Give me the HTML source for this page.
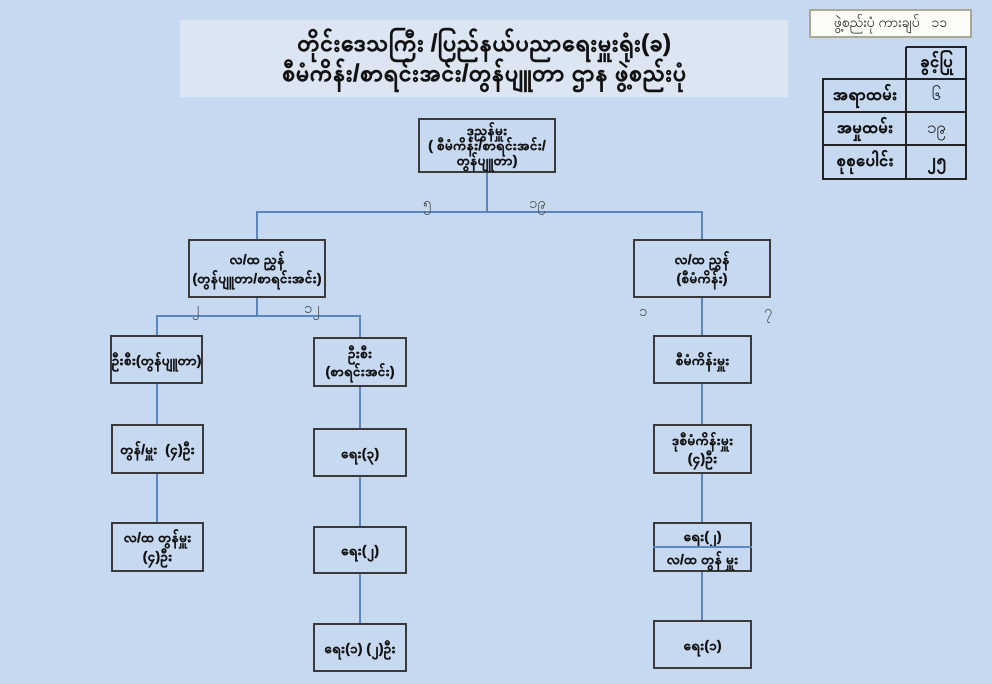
<!DOCTYPE html>
<html>
<head>
<meta charset="utf-8">
<style>
  html,body{margin:0;padding:0;}
  body{width:992px;height:684px;background:#c6d9f1;position:relative;overflow:hidden;
    font-family:"Liberation Sans","Padauk","Noto Sans Myanmar","Myanmar Text","DejaVu Sans",sans-serif;color:#111;}
  .abs{position:absolute;}
  .box{position:absolute;box-sizing:border-box;border:2px solid #3a3a3a;display:flex;align-items:center;justify-content:center;text-align:center;font-weight:bold;font-size:14px;line-height:18px;-webkit-text-stroke:0.35px #111;white-space:nowrap;}
  .lbl{position:absolute;font-size:15px;color:#444;line-height:16px;}
  .title{position:absolute;left:180px;top:20px;width:608px;height:77px;background:#dce6f2;display:flex;flex-direction:column;align-items:center;justify-content:center;font-weight:bold;font-size:24px;line-height:30px;-webkit-text-stroke:0.4px #111;white-space:nowrap;}
  .tag{position:absolute;left:809px;top:9px;width:163px;height:29px;box-sizing:border-box;background:#fdfdf8;border:2px solid #aaa996;display:flex;align-items:center;justify-content:center;font-size:14px;white-space:nowrap;}
  .cell{position:absolute;display:flex;align-items:center;justify-content:center;font-weight:bold;font-size:17px;-webkit-text-stroke:0.35px #111;white-space:nowrap;}
  svg{position:absolute;left:0;top:0;}
</style>
</head>
<body>
<svg width="992" height="684" viewBox="0 0 992 684">
  <g stroke="#5b87c0" stroke-width="2" fill="none">
    <line x1="487" y1="172" x2="487" y2="212"/>
    <line x1="256" y1="212" x2="703" y2="212"/>
    <line x1="257" y1="212" x2="257" y2="239"/>
    <line x1="702" y1="212" x2="702" y2="239"/>
    <line x1="257" y1="298" x2="257" y2="316"/>
    <line x1="156" y1="316" x2="361" y2="316"/>
    <line x1="157" y1="316" x2="157" y2="335"/>
    <line x1="360" y1="316" x2="360" y2="337"/>
    <line x1="702" y1="298" x2="702" y2="335"/>
    <line x1="157" y1="384" x2="157" y2="424"/>
    <line x1="157" y1="474" x2="157" y2="522"/>
    <line x1="360" y1="387" x2="360" y2="428"/>
    <line x1="360" y1="477" x2="360" y2="526"/>
    <line x1="360" y1="574" x2="360" y2="623"/>
    <line x1="702" y1="384" x2="702" y2="424"/>
    <line x1="702" y1="474" x2="702" y2="522"/>
    <line x1="702" y1="572" x2="702" y2="620"/>
  </g>
  <g stroke="#222" stroke-width="2" fill="none">
    <line x1="906" y1="47" x2="967" y2="47"/>
    <line x1="906" y1="47" x2="906" y2="179"/>
    <line x1="966" y1="47" x2="966" y2="179"/>
    <line x1="823" y1="79" x2="823" y2="179"/>
    <line x1="822" y1="79" x2="967" y2="79"/>
    <line x1="822" y1="112" x2="967" y2="112"/>
    <line x1="822" y1="145" x2="967" y2="145"/>
    <line x1="822" y1="179" x2="967" y2="179"/>
  </g>
</svg>

<div class="title">
  <div>တိုင်းဒေသကြီး /ပြည်နယ်ပညာရေးမှူးရုံး(ခ)</div>
  <div>စီမံကိန်း/စာရင်းအင်း/တွန်ပျူတာ ဌာန ဖွဲ့စည်းပုံ</div>
</div>

<div class="tag">ဖွဲ့စည်းပုံ ကားချပ်&nbsp;&nbsp; ၁၁</div>

<div class="cell" style="left:907px;top:48px;width:59px;height:31px;">ခွင့်ပြု</div>
<div class="cell" style="left:824px;top:80px;width:82px;height:32px;">အရာထမ်း</div>
<div class="cell" style="left:907px;top:80px;width:59px;height:32px;font-weight:normal;-webkit-text-stroke:0;">၆</div>
<div class="cell" style="left:824px;top:113px;width:82px;height:32px;">အမှုထမ်း</div>
<div class="cell" style="left:907px;top:113px;width:59px;height:32px;font-weight:normal;-webkit-text-stroke:0;">၁၉</div>
<div class="cell" style="left:824px;top:146px;width:82px;height:33px;">စုစုပေါင်း</div>
<div class="cell" style="left:907px;top:146px;width:59px;height:33px;">၂၅</div>

<!-- root -->
<div class="box" style="left:418px;top:118px;width:138px;height:55px;line-height:15px;">ဒုညွှန်မှူး<br>( စီမံကိန်း/စာရင်းအင်း/<br>တွန်ပျူတာ)</div>
<div class="lbl" style="left:423px;top:196px;">၅</div>
<div class="lbl" style="left:529px;top:196px;">၁၉</div>

<!-- level 2 -->
<div class="box" style="left:188px;top:239px;width:138px;height:59px;line-height:19px;">လ/ထ ညွှန်<br>(တွန်ပျူတာ/စာရင်းအင်း)</div>
<div class="box" style="left:633px;top:239px;width:138px;height:59px;line-height:19px;">လ/ထ ညွှန်<br>(စီမံကိန်း)</div>
<div class="lbl" style="left:192px;top:301px;">၂</div>
<div class="lbl" style="left:304px;top:301px;">၁၂</div>
<div class="lbl" style="left:639px;top:304px;">၁</div>
<div class="lbl" style="left:764px;top:304px;">၇</div>

<!-- level 3 -->
<div class="box" style="left:110px;top:335px;width:93px;height:49px;">ဦးစီး(တွန်ပျူတာ)</div>
<div class="box" style="left:313px;top:337px;width:94px;height:50px;">ဦးစီး<br>(စာရင်းအင်း)</div>
<div class="box" style="left:653px;top:335px;width:99px;height:49px;">စီမံကိန်းမှူး</div>

<!-- level 4 -->
<div class="box" style="left:111px;top:424px;width:93px;height:50px;">တွန်/မှူး&nbsp; (၄)ဦး</div>
<div class="box" style="left:313px;top:428px;width:94px;height:49px;">ရေး(၃)</div>
<div class="box" style="left:653px;top:424px;width:99px;height:50px;">ဒုစီမံကိန်းမှူး<br>(၄)ဦး</div>

<!-- level 5 -->
<div class="box" style="left:111px;top:522px;width:93px;height:50px;line-height:19px;">လ/ထ တွန်မှူး<br>(၄)ဦး</div>
<div class="box" style="left:313px;top:526px;width:94px;height:48px;">ရေး(၂)</div>
<div class="box" style="left:653px;top:522px;width:99px;height:50px;flex-direction:column;justify-content:space-around;">
  <div style="line-height:20px;">ရေး(၂)</div>
  <div style="line-height:20px;">လ/ထ တွန် မှူး</div>
</div>
<div class="abs" style="left:653px;top:546px;width:99px;height:2px;background:#5b87c0;"></div>

<!-- level 6 -->
<div class="box" style="left:313px;top:623px;width:94px;height:49px;">ရေး(၁) (၂)ဦး</div>
<div class="box" style="left:653px;top:620px;width:99px;height:49px;">ရေး(၁)</div>

</body>
</html>
